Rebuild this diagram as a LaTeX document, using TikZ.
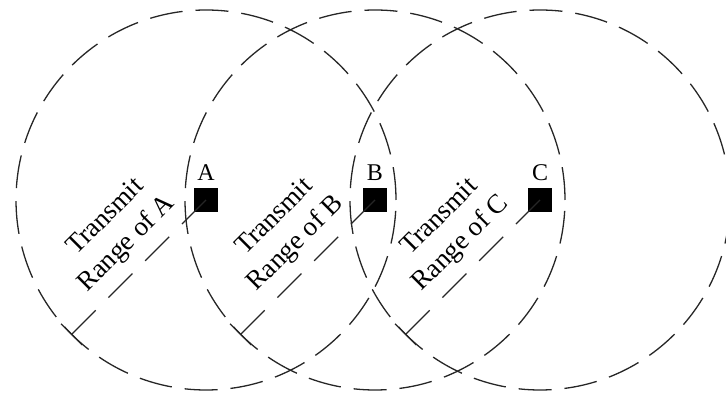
\documentclass[tikz,border=0pt]{standalone}
\usepackage{fontspec}
\setmainfont{Liberation Serif}
\usetikzlibrary{calc}
\begin{document}
\begin{tikzpicture}[x=1pt,y=1pt,
  rangecircle/.style={draw=black!85, line width=1.3pt, dash pattern=on 33pt off 13pt},
  station/.style={fill=black, minimum size=24pt, inner sep=0pt},
  radiusline/.style={draw=black!85, line width=1.3pt, dash pattern=on 34pt off 18pt},
  tickmark/.style={draw=black!85, line width=1.3pt},
  lab/.style={font=\fontsize{24}{28}\selectfont, inner sep=0pt},
  rottext/.style={font=\fontsize{27}{32}\selectfont, rotate=45, inner sep=0pt}]
\useasboundingbox (0,0) rectangle (726,398);
\foreach \n/\x in {A/206,B/375,C/540} {
  \node[station] (\n) at (\x,198) {};
  \draw[rangecircle] (\n.center) circle[radius=190];
  \node[lab] (lab\n) at ($(\n.center)+(0,27)$) {\n};
  \coordinate (end\n) at ($(\n.center)+(225:190)$);
  \draw[radiusline] (\n.center) -- (end\n);
  \coordinate (ta\n) at ($(end\n)+(135:15)$);
  \coordinate (tb\n) at ($(end\n)+(315:15)$);
  \draw[tickmark] (ta\n) -- (tb\n);
  \node[rottext] (tr\n) at ($(\n.center)+(225:83)+(135:61)$) {Transmit};
  \node[rottext] (rg\n) at ($(\n.center)+(225:87)+(135:25)$) {Range of \n};
}
\end{tikzpicture}
\end{document}
